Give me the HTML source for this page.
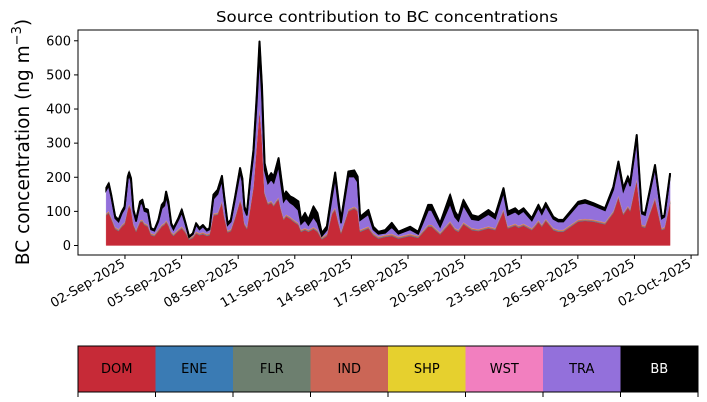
<!DOCTYPE html>
<html><head><meta charset="utf-8"><style>
body{margin:0;background:#fff;}
svg{display:block;font-family:"DejaVu Sans","Liberation Sans",sans-serif;}
</style></head><body>
<svg id="chart" width="707" height="402" viewBox="0 0 707 402" xmlns="http://www.w3.org/2000/svg">
<text x="387" y="22" font-size="15.5" text-anchor="middle" fill="#000" textLength="342" lengthAdjust="spacingAndGlyphs">Source contribution to BC concentrations</text>
<text transform="translate(29,142) rotate(-90)" font-size="18.5" text-anchor="middle" fill="#000">BC concentration (ng m<tspan dy="-8" font-size="13">−3</tspan><tspan dy="8">)</tspan></text>
<g id="plot"></g>
<g id="legend"></g>
</svg>
<script>
const days = [0.00,0.14,0.27,0.48,0.66,0.84,0.98,1.15,1.22,1.32,1.45,1.59,1.80,1.92,2.03,2.21,2.38,2.56,2.77,2.95,3.09,3.18,3.30,3.45,3.57,3.83,4.01,4.19,4.40,4.60,4.77,4.95,5.13,5.34,5.48,5.69,5.91,6.14,6.26,6.44,6.61,6.84,7.10,7.22,7.33,7.46,7.63,7.81,7.99,8.13,8.26,8.40,8.58,8.75,8.88,9.00,9.14,9.28,9.41,9.54,9.75,9.93,10.19,10.33,10.54,10.72,10.99,11.20,11.43,11.70,11.96,12.14,12.31,12.45,12.84,13.15,13.33,13.46,13.90,14.16,14.43,14.79,15.14,15.49,16.11,16.54,17.07,17.25,17.70,18.23,18.49,18.67,18.94,19.38,19.73,20.26,20.62,21.06,21.29,21.68,21.86,22.12,22.56,22.73,22.91,23.09,23.30,23.70,23.96,24.23,25.02,25.38,25.82,26.44,26.88,27.15,27.41,27.65,27.77,28.12,28.39,28.56,29.09,29.45,29.59,29.89];
const dom = [88,95,78,48,42,55,62,105,115,105,58,40,68,70,60,55,30,27,42,55,60,68,58,35,28,42,50,38,17,22,35,30,33,28,30,88,90,125,82,38,42,80,130,110,60,48,105,170,300,400,310,150,120,125,115,125,135,100,75,85,78,70,60,40,45,40,48,40,18,28,90,105,65,35,100,108,100,40,50,30,20,25,28,20,28,22,55,55,32,65,45,40,62,45,42,50,45,100,50,58,52,58,45,55,68,55,72,45,40,40,70,72,70,62,95,140,90,110,100,190,55,52,135,45,48,125];
const ene = [1,1,1,1,1,1,1,1,1,1,1,1,1,1,1,1,1,1,1,1,1,1,1,1,1,1,1,1,1,1,1,1,1,1,1,1,1,1,1,1,1,1,1,1,1,1,1,1,1,1,1,1,1,1,1,1,1,1,1,1,1,1,1,1,1,1,1,1,1,1,1,1,1,1,1,1,1,1,1,1,1,1,1,1,1,1,1,1,1,1,1,1,1,1,1,1,1,1,1,1,1,1,1,1,1,1,1,1,1,1,1,1,1,1,1,1,1,1,1,1,1,1,1,1,1,1];
const flr = [1,1,1,1,1,1,1,1,1,1,1,1,1,1,1,1,1,1,1,1,1,1,1,1,1,1,1,1,1,1,1,1,1,1,1,1,1,1,1,1,1,1,1,1,1,1,1,1,1,1,1,1,1,1,1,1,1,1,1,1,1,1,1,1,1,1,1,1,1,1,1,1,1,1,1,1,1,1,1,1,1,1,1,1,1,1,1,1,1,1,1,1,1,1,1,1,1,1,1,1,1,1,1,1,1,1,1,1,1,1,1,1,1,1,1,1,1,1,1,1,1,1,1,1,1,1];
const ind = [3,3,3,3,3,3,3,3,3,3,3,3,3,3,3,3,3,3,3,3,3,3,3,3,3,3,3,3,3,3,3,3,3,3,3,3,3,3,3,3,3,3,3,3,3,3,3,3,3,3,3,3,3,3,3,3,3,3,3,3,3,3,3,3,3,3,3,3,3,3,3,3,3,3,3,3,3,3,3,3,3,3,3,3,3,3,3,3,3,3,3,3,3,3,3,3,3,3,3,3,3,3,3,3,3,3,3,3,3,3,3,3,3,3,3,3,3,3,3,3,3,3,3,3,3,3];
const shp = [1,1,1,1,1,1,1,1,1,1,1,1,1,1,1,1,1,1,1,1,1,1,1,1,1,1,1,1,1,1,1,1,1,1,1,1,1,1,1,1,1,1,1,1,1,1,1,1,1,1,1,1,1,1,1,1,1,1,1,1,1,1,1,1,1,1,1,1,1,1,1,1,1,1,1,1,1,1,1,1,1,1,1,1,1,1,1,1,1,1,1,1,1,1,1,1,1,1,1,1,1,1,1,1,1,1,1,1,1,1,1,1,1,1,1,1,1,1,1,1,1,1,1,1,1,1];
const wst = [0,0,0,0,0,0,0,0,0,0,0,0,0,0,0,0,0,0,0,0,0,0,0,0,0,0,0,0,0,0,0,0,0,0,0,0,0,0,0,0,0,0,0,0,0,0,0,0,0,0,0,0,0,0,0,0,0,0,0,0,0,0,0,0,0,0,0,0,0,0,0,0,0,0,0,0,0,0,0,0,0,0,0,0,0,0,0,0,0,0,0,0,0,0,0,0,0,0,0,0,0,0,0,0,0,0,0,0,0,0,0,0,0,0,0,0,0,0,0,0,0,0,0,0,0,0];
const tra = [68,74,59,26,22,34,40,83,85,78,35,24,47,48,35,36,11,10,22,48,51,69,55,19,13,27,41,21,1,5,20,11,17,9,11,43,55,61,48,16,22,50,79,71,40,34,71,89,115,157,120,65,56,63,63,76,93,71,48,49,42,43,38,17,24,14,30,21,4,12,42,88,48,24,96,88,81,28,36,11,8,6,20,8,13,6,43,43,17,52,33,26,50,26,26,36,28,50,33,35,33,37,22,30,37,31,38,27,24,24,45,47,41,35,63,90,64,78,68,118,32,31,87,28,30,73];
const bb = [6,7,6,5,5,5,6,8,8,8,6,5,8,10,8,8,4,3,5,10,12,15,10,5,4,5,8,5,2,3,4,4,4,3,4,12,12,12,8,5,5,8,12,10,8,7,10,15,25,35,30,20,15,18,18,20,22,20,15,18,18,20,25,12,20,15,30,28,8,10,15,15,15,10,15,18,15,10,12,8,6,8,12,6,8,6,15,15,10,25,15,12,15,12,10,12,10,12,10,10,8,8,7,8,8,7,8,6,5,5,7,8,7,6,8,10,8,8,8,10,6,5,8,5,5,8];
const yTicks = [0,100,200,300,400,500,600];
const xTickDays = [1,4,7,10,13,16,19,22,25,28,31];
const xTickLabels = ["02-Sep-2025","05-Sep-2025","08-Sep-2025","11-Sep-2025","14-Sep-2025","17-Sep-2025","20-Sep-2025","23-Sep-2025","26-Sep-2025","29-Sep-2025","02-Oct-2025"];
const legendNames = ["DOM","ENE","FLR","IND","SHP","WST","TRA","BB"];
const legendColors = ["#c62a37","#3a7bb4","#6d7f6f","#cb6656","#e6d02e","#f27fbf","#9370db","#000000"];

const NS="http://www.w3.org/2000/svg";
const L=78,R=698,T=30,B=255;
function xs(d){return 106.1+d*18.87;}
function ys(v){return 245.5-v*0.3412;}
function mk(tag,attrs,parent){const e=document.createElementNS(NS,tag);for(const k in attrs)e.setAttribute(k,attrs[k]);parent.appendChild(e);return e;}
const plot=document.getElementById('plot');
const series=[dom,ene,flr,ind,shp,wst,tra,bb];
const n=days.length;
let base=new Array(n).fill(0);
series.forEach((s,si)=>{
  const top=base.map((b,i)=>b+s[i]);
  let d="M"+days.map((dd,i)=>xs(dd).toFixed(2)+","+ys(top[i]).toFixed(2)).join("L");
  for(let i=n-1;i>=0;i--)d+="L"+xs(days[i]).toFixed(2)+","+ys(base[i]).toFixed(2);
  d+="Z";
  const p=mk('path',{d:d,fill:legendColors[si],stroke:legendColors[si],'stroke-width':si===7?1.5:0.3},plot);
  
  
  base=top;
});
const ol=mk('path',{d:"M"+days.map((dd,i)=>xs(dd).toFixed(2)+","+ys(base[i]).toFixed(2)).join("L"),fill:"none",stroke:"#000","stroke-width":2,"stroke-linejoin":"round"},plot);


const frame=mk('rect',{x:L,y:T,width:R-L,height:B-T,fill:"none",stroke:"#000","stroke-width":1},plot);


yTicks.forEach(v=>{
  const y=ys(v);
  const t=mk('line',{x1:L-4,x2:L,y1:y,y2:y,stroke:"#000"},plot);
  
  
  const tx=mk('text',{x:L-7,y:y+4.5,'font-size':13,'text-anchor':'end'},plot);
  tx.textContent=v;
  
  
});
xTickDays.forEach((d,i)=>{
  const x=xs(d);
  const t=mk('line',{x1:x,x2:x,y1:B,y2:B+4,stroke:"#000"},plot);
  
  
  const tx=mk('text',{transform:`translate(${x+1},${B+11}) rotate(-30)`,'font-size':13,'text-anchor':'end'},plot);
  tx.textContent=xTickLabels[i];
  
  
});
const lg=document.getElementById('legend');
const cw=(R-L)/legendNames.length;
legendNames.forEach((nm,i)=>{
  const r=mk('rect',{x:L+i*cw,y:346,width:cw,height:46,fill:legendColors[i]},lg);
  
  
  const tx=mk('text',{x:L+i*cw+cw/2,y:373,'font-size':13,'text-anchor':'middle',fill:nm==="BB"?"#fff":"#000"},lg);
  tx.textContent=nm;
  
  
});
for(let i=0;i<=legendNames.length;i++){
  const t=mk('line',{x1:L+i*cw,x2:L+i*cw,y1:392,y2:397,stroke:"#000"},lg);
  
  
}
const lb=mk('rect',{x:L,y:346,width:R-L,height:46,fill:"none",stroke:"#000"},lg);


</script>
</body></html>
